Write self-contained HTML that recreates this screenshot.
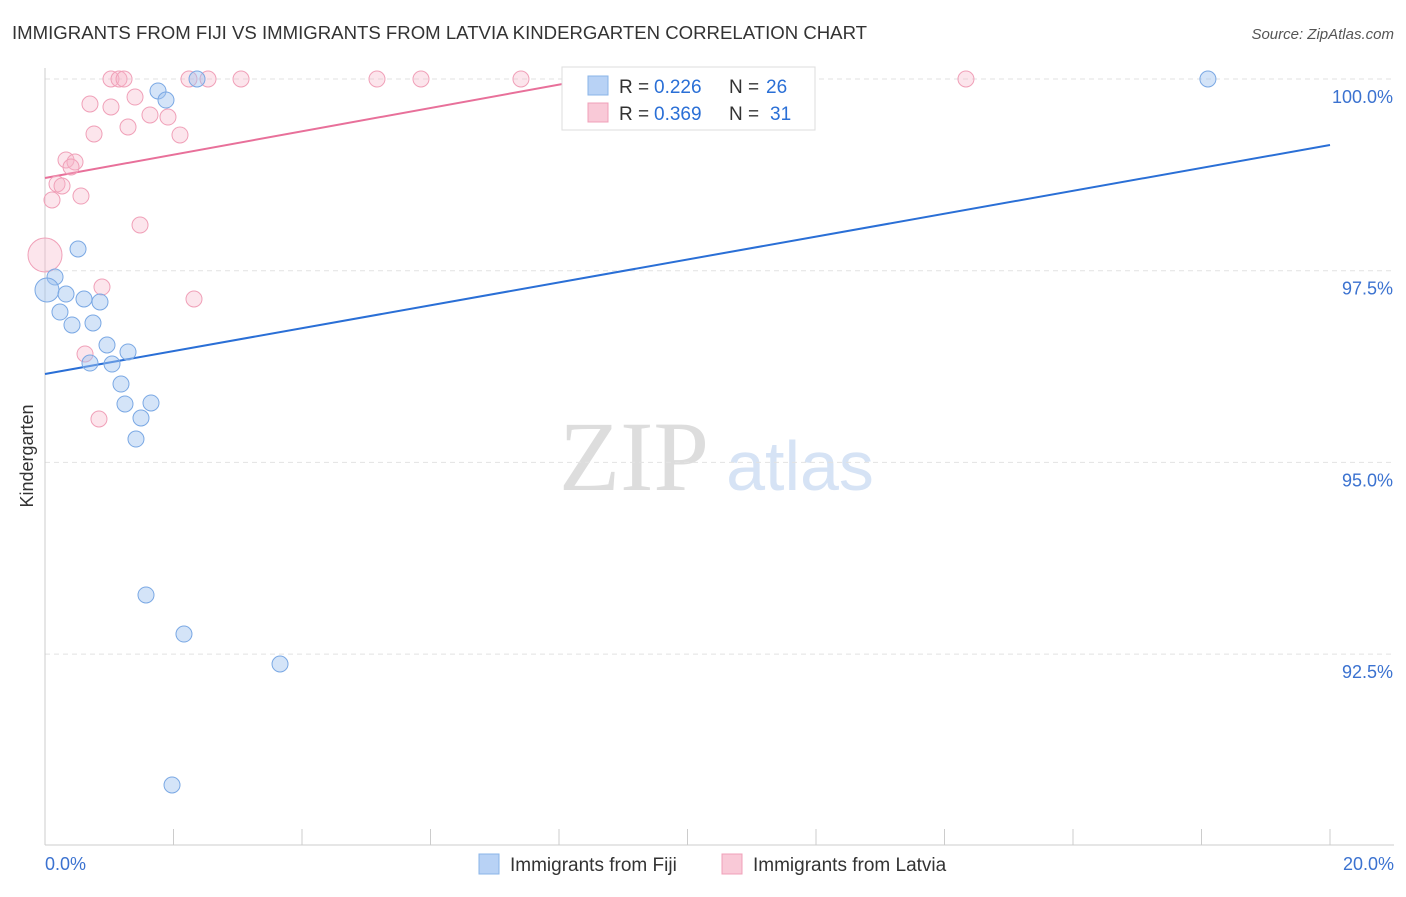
<!DOCTYPE html>
<html><head><meta charset="utf-8"><style>
body{margin:0;background:#fff;font-family:"Liberation Sans",sans-serif}
</style></head><body>
<svg width="1406" height="892" xmlns="http://www.w3.org/2000/svg" id="chart" font-family="Liberation Sans, sans-serif">
<text x="12" y="39" font-size="18.6" fill="#333">IMMIGRANTS FROM FIJI VS IMMIGRANTS FROM LATVIA KINDERGARTEN CORRELATION CHART</text>
<text x="1394" y="39" font-size="15" fill="#555" font-style="italic" text-anchor="end">Source: ZipAtlas.com</text>
<text x="634" y="490" font-size="100" fill="#ddd" font-family="Liberation Serif, serif" text-anchor="middle">ZIP</text>
<text x="800" y="490" font-size="70" fill="#d6e3f5" text-anchor="middle">atlas</text>
<text transform="translate(33,456) rotate(-90)" font-size="18" fill="#333" text-anchor="middle">Kindergarten</text>
<g id="grid"></g><g id="axes"></g><g id="lines"></g><g id="points"></g>
<g>
<rect x="562" y="67" width="253" height="63" fill="#fff" stroke="#ddd"/>
<rect x="588" y="76" width="20" height="19" fill="#b8d2f5" stroke="#8ab4e8"/>
<rect x="588" y="103" width="20" height="19" fill="#f9c9d7" stroke="#f0a0b8"/>
<text x="619" y="93" font-size="19" fill="#333">R =</text>
<text x="654" y="93" font-size="19" fill="#2a6fd6">0.226</text>
<text x="729" y="93" font-size="19" fill="#333">N =</text>
<text x="766" y="93" font-size="19" fill="#2a6fd6">26</text>
<text x="619" y="120" font-size="19" fill="#333">R =</text>
<text x="654" y="120" font-size="19" fill="#2a6fd6">0.369</text>
<text x="729" y="120" font-size="19" fill="#333">N =</text>
<text x="770" y="120" font-size="19" fill="#2a6fd6">31</text>
</g>
<g>
<rect x="479" y="854" width="20" height="20" fill="#b8d2f5" stroke="#8ab4e8"/>
<text x="510" y="871" font-size="19" fill="#333">Immigrants from Fiji</text>
<rect x="722" y="854" width="20" height="20" fill="#f9c9d7" stroke="#f0a0b8"/>
<text x="753" y="871" font-size="19" fill="#333">Immigrants from Latvia</text>
</g>
</svg>
<script>
const yTicks=[100,97.5,95,92.5];
const yTickLabels=["100.0%","97.5%","95.0%","92.5%"];
const xTickLabels=["0.0%","20.0%"];
const fijiX=[0.156,0.031,0.327,0.607,0.856,0.233,0.420,0.747,0.514,0.965,1.292,0.700,1.043,1.183,1.245,1.650,1.494,1.416,1.759,1.883,2.366,18.10,1.572,2.163,3.658,1.977];
const fijiY=[97.418,97.248,97.196,97.131,97.092,96.961,96.792,96.818,97.783,96.531,96.440,96.296,96.283,96.022,95.762,95.775,95.579,95.305,99.844,99.726,100,100,93.271,92.762,92.371,90.793];
const fijiR=[8,12,8,8,8,8,8,8,8,8,8,8,8,8,8,8,8,8,8,8,8,8,8,8,8,8];
const latX=[0,0.109,0.187,0.265,0.327,0.467,0.405,0.560,0.700,0.763,1.027,1.152,1.230,1.027,1.292,1.401,1.634,1.914,2.101,1.479,2.241,2.537,3.051,5.167,5.852,7.408,14.334,0.887,2.319,0.623,0.840];
const latY=[97.705,98.422,98.631,98.605,98.944,98.918,98.852,98.474,99.674,99.283,100,100,100,99.635,99.374,99.765,99.531,99.504,99.270,98.096,100,100,100,100,100,100,100,97.287,97.131,96.414,95.566];
const latR=[17,8,8,8,8,8,8,8,8,8,8,8,8,8,8,8,8,8,8,8,8,8,8,8,8,8,8,8,8,8,8];
const fijiTrend=[96.153,99.139];
const latTrend=[98.709,0.1522];
const NS="http://www.w3.org/2000/svg";
const X=v=>45+v/20*1285;
const Y=v=>79+(100-v)/2.5*191.7;
function mk(p,t,a){const e=document.createElementNS(NS,t);for(const k in a)e.setAttribute(k,a[k]);document.getElementById(p).appendChild(e);return e;}
yTicks.forEach((t,i)=>{
 let l=mk('grid','line',{x1:45,x2:1394,y1:Y(t),y2:Y(t),stroke:'#e2e2e2','stroke-dasharray':'5,4'});
 
 
 let tx=mk('grid','text',{x:1393,y:Y(t)+24,'font-size':18,fill:'#3b72d0','text-anchor':'end'});
 tx.textContent=yTickLabels[i];
 
 
});
let ax=mk('axes','line',{x1:45,x2:45,y1:68,y2:845,stroke:'#ccc'});


let bx=mk('axes','line',{x1:45,x2:1394,y1:845,y2:845,stroke:'#ccc'});


for(let i=0;i<=10;i++){let t=mk('axes','line',{x1:X(i*2),x2:X(i*2),y1:829,y2:845,stroke:'#ccc'});
 
 }
[[0,'start',45],[20,'end',1394]].forEach((d,i)=>{let t=mk('axes','text',{x:d[2],y:870,'font-size':18,fill:'#3b72d0','text-anchor':d[1]});t.textContent=xTickLabels[i];
 
 });
let bl=mk('lines','line',{x1:X(0),y1:Y(fijiTrend[0]),x2:X(20),y2:Y(fijiTrend[1]),stroke:'#2a6fd6','stroke-width':2});


const xe=(100-latTrend[0])/latTrend[1];
let pl=mk('lines','line',{x1:X(0),y1:Y(latTrend[0]),x2:X(xe),y2:Y(100),stroke:'#e8709a','stroke-width':2});


latX.forEach((x,i)=>{let c=mk('points','circle',{cx:X(x),cy:Y(latY[i]),r:latR[i],fill:'rgba(246,180,200,0.35)',stroke:'#f0a0b8','stroke-width':1});
 
 });
fijiX.forEach((x,i)=>{let c=mk('points','circle',{cx:X(x),cy:Y(fijiY[i]),r:fijiR[i],fill:'rgba(160,196,240,0.45)',stroke:'#7aa8e4','stroke-width':1});
 
 });
</script>
</body></html>
